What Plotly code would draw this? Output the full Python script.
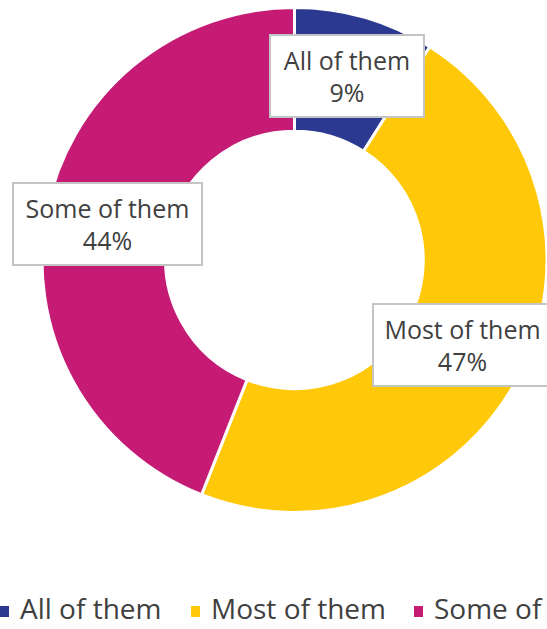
import plotly.graph_objects as go

# Share of respondents by answer
categories = ["All of them", "Most of them", "Some of them"]
shares = [9, 47, 44]
colors = ["#2B3990", "#FFC90A", "#C51B75"]

W, H = 547, 629
FONT = "Open Sans"
TEXT_COLOR = "#404040"

fig = go.Figure(
    go.Pie(
        labels=categories,
        values=shares,
        sort=False,
        direction="clockwise",
        rotation=0,
        hole=0.51,
        marker=dict(colors=colors, line=dict(color="white", width=3)),
        textinfo="none",
        hoverinfo="label+percent",
        showlegend=False,
        domain=dict(x=[42 / W, 1.0], y=[1 - 513 / H, 1 - 7 / H]),
    )
)

# Boxed data labels (pixel centres and widths of each callout)
label_boxes = [
    (347, 76, 146),
    (462, 345, 171),
    (107.5, 223.5, 181),
]
for (cx, cy, bw), name, val in zip(label_boxes, categories, shares):
    fig.add_annotation(
        x=cx / W, y=1 - cy / H, xref="paper", yref="paper",
        xanchor="center", yanchor="middle",
        text=f"{name}<br>{val}%",
        showarrow=False,
        font=dict(family=FONT, size=25, color=TEXT_COLOR),
        align="center",
        bgcolor="white", bordercolor="#C4C4C4", borderwidth=2, borderpad=3,
        width=bw, height=74,
    )

# Legend row along the bottom edge
legend_x = [0, 191, 414]
legend_mid = 611
for lx, name, col in zip(legend_x, categories, colors):
    fig.add_shape(
        type="rect", xref="paper", yref="paper",
        x0=lx / W, x1=(lx + 9) / W,
        y0=1 - (legend_mid + 6) / H, y1=1 - (legend_mid - 5) / H,
        fillcolor=col, line=dict(width=0),
    )
    fig.add_annotation(
        x=(lx + 18) / W, y=0, xref="paper", yref="paper",
        xanchor="left", yanchor="bottom",
        text=name, showarrow=False,
        font=dict(family=FONT, size=28, color=TEXT_COLOR),
    )

fig.update_layout(
    width=W, height=H,
    margin=dict(l=0, r=0, t=0, b=0),
    paper_bgcolor="white",
    plot_bgcolor="white",
)

fig.write_html("out.html")
